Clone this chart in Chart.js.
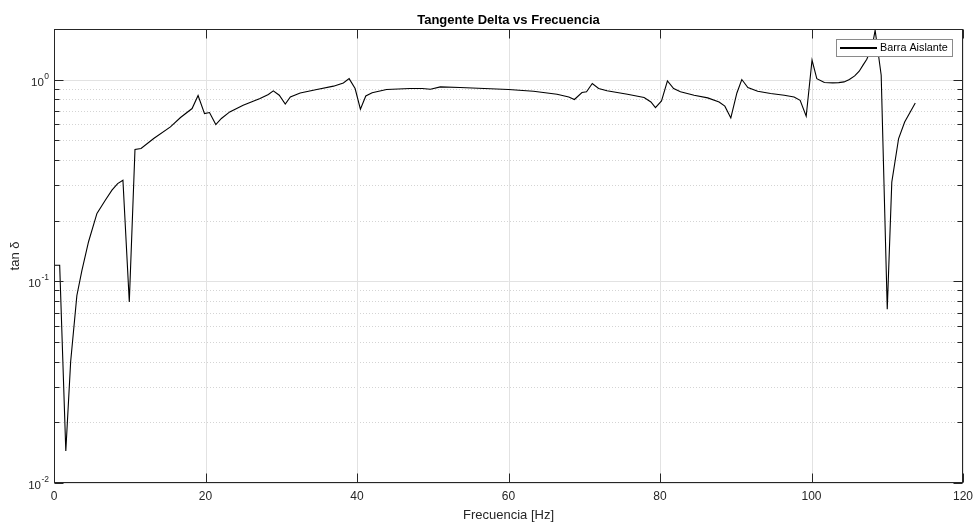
<!DOCTYPE html>
<html>
<head>
<meta charset="utf-8">
<title>Tangente Delta vs Frecuencia</title>
<script src="https://cdn.jsdelivr.net/npm/chart.js@4.4.1/dist/chart.umd.min.js"></script>
<style>
  html, body { margin: 0; padding: 0; background: #ffffff; }
  canvas { display: block; }
</style>
</head>
<body>
<canvas id="chart" width="974" height="522"></canvas>
<script>
// Frequency sweep (Hz) and measured loss tangent
const frecuencia = [
  0.05, 0.75, 1.56, 2.2, 3.02, 3.68, 4.56, 5.67, 6.77, 7.65, 8.4, 9.1, 9.94,
  10.69, 11.49, 13.16, 15.37, 16.7, 18.23, 19.02, 19.87, 20.53, 21.36, 22.1,
  23.2, 24.97, 27.2, 28.3, 28.95, 29.74, 30.53, 31.2, 32.5, 34.7, 36.9, 38.2,
  38.96, 39.75, 40.45, 41.16, 42.0, 43.9, 47.0, 48.6, 49.7, 51.0, 53.6, 60.0,
  63.3, 66.4, 67.96, 68.7, 69.7, 70.3, 71.06, 71.9, 73.0, 75.7, 77.9, 78.8,
  79.4, 80.2, 80.98, 81.8, 82.7, 84.5, 86.3, 87.8, 88.56, 89.35, 90.15, 90.8,
  91.6, 92.9, 94.6, 96.4, 97.7, 98.5, 99.3, 100.07, 100.7, 101.7, 102.8, 103.6,
  104.3, 105.0, 105.7, 106.3, 106.8, 107.3, 107.7, 108.1, 108.4, 109.2, 110.0,
  110.6, 111.5, 112.3, 113.7
];
const tanDelta = [
  0.12, 0.12, 0.0144, 0.040, 0.085, 0.113, 0.157, 0.217, 0.252, 0.283, 0.305, 0.317, 0.079,
  0.45, 0.455, 0.51, 0.582, 0.648, 0.718, 0.833, 0.678, 0.686, 0.598, 0.641,
  0.691, 0.746, 0.805, 0.843, 0.879, 0.836, 0.755, 0.820, 0.858, 0.892, 0.927, 0.962,
  1.01, 0.902, 0.713, 0.829, 0.860, 0.892, 0.902, 0.902, 0.895, 0.919, 0.913, 0.892,
  0.875, 0.846, 0.82, 0.796, 0.862, 0.869, 0.955, 0.902, 0.879, 0.846, 0.814, 0.774,
  0.726, 0.783, 0.984, 0.902, 0.869, 0.836, 0.811, 0.774, 0.738, 0.645, 0.858, 1.0,
  0.913, 0.875, 0.852, 0.836, 0.82, 0.789, 0.658, 1.247, 1.01, 0.966, 0.962, 0.965,
  0.973, 1.0, 1.042, 1.10, 1.178, 1.26, 1.37, 1.52, 1.755, 1.05, 0.0727,
  0.31, 0.51, 0.616, 0.765
];
const seriesLabel = 'Barra Aislante';

// Axis ticks
const xTicks = [0, 20, 40, 60, 80, 100, 120];
const yDecadeExponents = [-2, -1, 0];

const titleText = 'Tangente Delta vs Frecuencia';
const xTitle = 'Frecuencia [Hz]';
const yTitle = 'tan \u03B4';

const FONT = '"Liberation Sans", Arial, Helvetica, sans-serif';
const INK = '#262626';

const decorations = {
  id: 'decorations',
  beforeDatasetsDraw(chart) {
    const { ctx, chartArea: a, scales: { x, y } } = chart;
    ctx.save();
    ctx.lineWidth = 1;

    // minor log grid (dotted)
    ctx.strokeStyle = '#d4d4d4';
    ctx.setLineDash([1, 2]);
    yDecadeExponents.forEach(e => {
      for (let m = 2; m <= 9; m++) {
        const v = m * Math.pow(10, e);
        if (v > y.max) continue;
        const py = Math.round(y.getPixelForValue(v)) + 0.5;
        ctx.beginPath();
        ctx.moveTo(a.left, py);
        ctx.lineTo(a.right, py);
        ctx.stroke();
      }
    });

    // major grid (solid)
    ctx.setLineDash([]);
    ctx.strokeStyle = '#e2e2e2';
    xTicks.forEach(v => {
      const px = Math.round(x.getPixelForValue(v)) + 0.5;
      ctx.beginPath();
      ctx.moveTo(px, a.top);
      ctx.lineTo(px, a.bottom);
      ctx.stroke();
    });
    yDecadeExponents.forEach(e => {
      const py = Math.round(y.getPixelForValue(Math.pow(10, e))) + 0.5;
      ctx.beginPath();
      ctx.moveTo(a.left, py);
      ctx.lineTo(a.right, py);
      ctx.stroke();
    });
    ctx.restore();
  },
  afterDatasetsDraw(chart) {
    const { ctx, chartArea: a, scales: { x, y } } = chart;
    const L = Math.round(a.left) + 0.5, R = Math.round(a.right) - 0.5;
    const T = Math.round(a.top) + 0.5, B = Math.round(a.bottom) - 0.5;
    ctx.save();
    ctx.strokeStyle = INK;
    ctx.lineWidth = 1;

    // axes box
    ctx.strokeRect(L, T, R - L, B - T);

    // x ticks (bottom and top, inward)
    const majorLen = 9, minorLen = 5;
    xTicks.forEach(v => {
      const px = Math.round(x.getPixelForValue(v)) + 0.5;
      ctx.beginPath();
      ctx.moveTo(px, B); ctx.lineTo(px, B - majorLen);
      ctx.moveTo(px, T); ctx.lineTo(px, T + majorLen);
      ctx.stroke();
    });

    // y ticks (left and right, inward)
    yDecadeExponents.forEach(e => {
      for (let m = 1; m <= 9; m++) {
        const v = m * Math.pow(10, e);
        if (v > y.max) continue;
        const py = Math.round(y.getPixelForValue(v)) + 0.5;
        const len = m === 1 ? majorLen : minorLen;
        ctx.beginPath();
        ctx.moveTo(L, py); ctx.lineTo(L + len, py);
        ctx.moveTo(R, py); ctx.lineTo(R - len, py);
        ctx.stroke();
      }
    });

    ctx.fillStyle = INK;

    // x tick labels
    ctx.font = '12px ' + FONT;
    ctx.textAlign = 'center';
    ctx.textBaseline = 'middle';
    xTicks.forEach(v => {
      ctx.fillText(String(v), x.getPixelForValue(v), a.bottom + 14);
    });

    // y tick labels: 10 with superscript exponent
    yDecadeExponents.forEach(e => {
      const py = y.getPixelForValue(Math.pow(10, e));
      const exp = e < 0 ? '-' + Math.abs(e) : String(e);
      ctx.font = '8.5px ' + FONT;
      const expW = ctx.measureText(exp).width;
      ctx.textAlign = 'right';
      ctx.textBaseline = 'alphabetic';
      const right = a.left - 5;
      ctx.fillText(exp, right, py - 1);
      ctx.font = '11.5px ' + FONT;
      ctx.fillText('10', right - expW - 0.5, py + 6);
    });

    // title
    ctx.font = 'bold 13px ' + FONT;
    ctx.fillStyle = '#000000';
    ctx.textAlign = 'center';
    ctx.textBaseline = 'middle';
    ctx.fillText(titleText, (a.left + a.right) / 2, 20);

    // axis titles
    ctx.fillStyle = INK;
    ctx.font = '13px ' + FONT;
    ctx.fillText(xTitle, (a.left + a.right) / 2, 515);
    ctx.save();
    ctx.translate(15, (a.top + a.bottom) / 2);
    ctx.rotate(-Math.PI / 2);
    ctx.fillText(yTitle, 0, 0);
    ctx.restore();

    // legend
    const lx = 836.5, ly = 39.5, lw = 116, lh = 17;
    ctx.fillStyle = '#ffffff';
    ctx.fillRect(lx, ly, lw, lh);
    ctx.strokeStyle = '#8a8a8a';
    ctx.lineWidth = 1;
    ctx.strokeRect(lx, ly, lw, lh);
    ctx.strokeStyle = '#000000';
    ctx.lineWidth = 2;
    ctx.beginPath();
    ctx.moveTo(840, ly + lh / 2);
    ctx.lineTo(877, ly + lh / 2);
    ctx.stroke();
    ctx.fillStyle = '#000000';
    ctx.font = '10.8px ' + FONT;
    ctx.textAlign = 'left';
    ctx.textBaseline = 'middle';
    ctx.fillText(chart.data.datasets[0].label, 880, ly + lh / 2 + 0.5);

    ctx.restore();
  }
};

new Chart(document.getElementById('chart'), {
  type: 'line',
  data: {
    datasets: [{
      label: seriesLabel,
      data: frecuencia.map((f, i) => ({ x: f, y: tanDelta[i] })),
      borderColor: '#000000',
      borderWidth: 1.1,
      pointRadius: 0,
      tension: 0,
      fill: false
    }]
  },
  options: {
    responsive: false,
    animation: false,
    layout: { padding: { left: 54, right: 11, top: 29, bottom: 39 } },
    plugins: {
      legend: { display: false },
      title: { display: false },
      tooltip: { enabled: false }
    },
    scales: {
      x: {
        type: 'linear', min: 0, max: 120,
        ticks: { display: false },
        grid: { display: false },
        border: { display: false },
        afterFit(s) { s.height = 0; }
      },
      y: {
        type: 'logarithmic', min: 0.01, max: 1.78,
        ticks: { display: false },
        grid: { display: false },
        border: { display: false },
        afterFit(s) { s.width = 0; }
      }
    }
  },
  plugins: [decorations]
});
</script>
</body>
</html>
